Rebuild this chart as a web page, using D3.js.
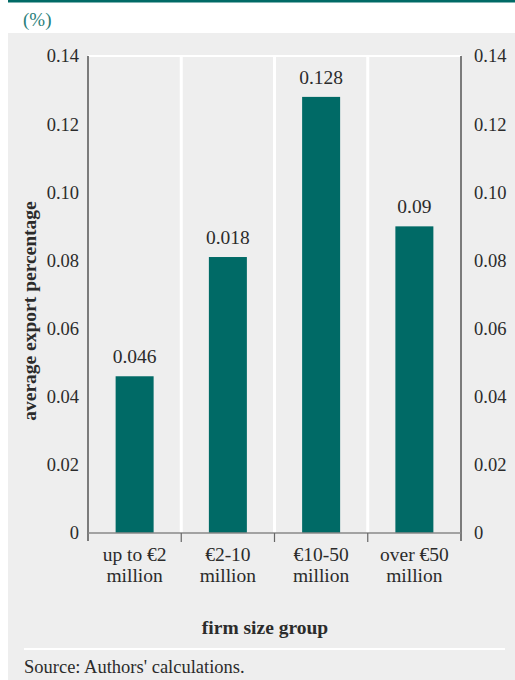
<!DOCTYPE html>
<html>
<head>
<meta charset="utf-8">
<script src="https://cdn.jsdelivr.net/npm/d3@7"></script>
<style>
  html, body { margin: 0; padding: 0; background: #ffffff; }
  svg { display: block; }
</style>
</head>
<body>
<svg id="chart" width="515" height="680"></svg>
<script>
// Firm size groups (two-line labels) and their average export percentage
const categories = [
  ["up to €2", "million"],
  ["€2-10", "million"],
  ["€10-50", "million"],
  ["over €50", "million"]
];
const values = [0.046, 0.081, 0.128, 0.09];
// Value labels printed above each bar
const valueLabels = ["0.046", "0.018", "0.128", "0.09"];
const yTicks = [0, 0.02, 0.04, 0.06, 0.08, 0.10, 0.12, 0.14];
const yTickLabels = ["0", "0.02", "0.04", "0.06", "0.08", "0.10", "0.12", "0.14"];

const teal = "#006a66";
const ink = "#2b2b2b";
const serif = "'Liberation Serif', 'Times New Roman', serif";
const svg = d3.select("#chart");

// Header rule, unit label and grey panel
svg.append("rect").attr("x", 8).attr("y", 0).attr("width", 507).attr("height", 2.5).attr("fill", teal);
svg.append("text").attr("x", 23).attr("y", 26).attr("font-size", 19)
  .attr("font-family", serif).attr("fill", "#2a7f7b").text("(%)");
svg.append("rect").attr("x", 8).attr("y", 33).attr("width", 507).attr("height", 647).attr("fill", "#eeeeee");

const plot = { left: 88, right: 461, top: 56, bottom: 533 };

const x = d3.scaleBand()
  .domain(d3.range(categories.length))
  .range([plot.left, plot.right])
  .paddingInner(0).paddingOuter(0);
const y = d3.scaleLinear().domain([0, 0.14]).range([plot.bottom, plot.top]);

// White frame lines: top edge and category separators
svg.append("line")
  .attr("x1", plot.left).attr("x2", plot.right)
  .attr("y1", plot.top).attr("y2", plot.top)
  .attr("stroke", "#ffffff").attr("stroke-width", 2);
svg.selectAll("line.sep")
  .data(d3.range(1, categories.length))
  .join("line")
  .attr("class", "sep")
  .attr("x1", d => x(d)).attr("x2", d => x(d))
  .attr("y1", plot.top).attr("y2", plot.bottom)
  .attr("stroke", "#ffffff").attr("stroke-width", 3);

// Bars
const barW = 38;
svg.selectAll("rect.bar")
  .data(values)
  .join("rect")
  .attr("class", "bar")
  .attr("x", (d, i) => x(i) + x.bandwidth() / 2 - barW / 2)
  .attr("width", barW)
  .attr("y", d => y(d))
  .attr("height", d => y(0) - y(d))
  .attr("fill", teal);

// Value labels
svg.selectAll("text.val")
  .data(values)
  .join("text")
  .attr("class", "val")
  .attr("x", (d, i) => x(i) + x.bandwidth() / 2)
  .attr("y", d => y(d) - 13)
  .attr("text-anchor", "middle")
  .attr("font-family", serif)
  .attr("font-size", 19.5)
  .attr("fill", ink)
  .text((d, i) => valueLabels[i]);

// Left and right value axes
const leftAxis = d3.axisLeft(y).tickValues(yTicks).tickSize(0).tickPadding(9)
  .tickFormat((d, i) => yTickLabels[i]);
const rightAxis = d3.axisRight(y).tickValues(yTicks).tickSize(0).tickPadding(13)
  .tickFormat((d, i) => yTickLabels[i]);

const gl = svg.append("g").attr("transform", `translate(${plot.left},0)`).call(leftAxis);
const gr = svg.append("g").attr("transform", `translate(${plot.right},0)`).call(rightAxis);
[gl, gr].forEach(g => {
  g.attr("font-family", serif).attr("font-size", 18.5);
  g.select(".domain").remove();
  g.selectAll("text").attr("fill", ink);
  g.append("line").attr("x1", 0).attr("x2", 0).attr("y1", plot.top).attr("y2", plot.bottom + 8)
    .attr("stroke", "#555").attr("stroke-width", 1.5);
});

// Category axis with boundary ticks
const gx = svg.append("g");
gx.append("line")
  .attr("x1", plot.left).attr("x2", plot.right)
  .attr("y1", plot.bottom).attr("y2", plot.bottom)
  .attr("stroke", "#888").attr("stroke-width", 1.5);
gx.selectAll("line.tick")
  .data(d3.range(1, categories.length))
  .join("line")
  .attr("class", "tick")
  .attr("x1", d => x(d)).attr("x2", d => x(d))
  .attr("y1", plot.bottom).attr("y2", plot.bottom + 9)
  .attr("stroke", "#666").attr("stroke-width", 1.2);

const catText = gx.selectAll("text.cat")
  .data(categories)
  .join("text")
  .attr("class", "cat")
  .attr("text-anchor", "middle")
  .attr("font-family", serif)
  .attr("font-size", 19.5)
  .attr("fill", ink)
  .attr("x", (d, i) => x(i) + x.bandwidth() / 2)
  .attr("y", 561);
catText.selectAll("tspan")
  .data(d => d)
  .join("tspan")
  .attr("x", function () { return d3.select(this.parentNode).attr("x"); })
  .attr("dy", (d, i) => i === 0 ? 0 : 21)
  .text(d => d);

// Axis titles
svg.append("text")
  .attr("x", 265).attr("y", 634)
  .attr("text-anchor", "middle")
  .attr("font-family", serif)
  .attr("font-size", 19.5).attr("font-weight", "bold")
  .attr("fill", ink)
  .text("firm size group");
svg.append("text")
  .attr("transform", `translate(36,311) rotate(-90)`)
  .attr("text-anchor", "middle")
  .attr("font-family", serif)
  .attr("font-size", 19.5).attr("font-weight", "bold")
  .attr("fill", ink)
  .text("average export percentage");

// Footer rule and source note
svg.append("line").attr("x1", 24).attr("x2", 505).attr("y1", 649).attr("y2", 649)
  .attr("stroke", "#ffffff").attr("stroke-width", 2);
svg.append("text").attr("x", 24).attr("y", 673)
  .attr("font-family", serif).attr("font-size", 18.5)
  .attr("fill", ink)
  .text("Source: Authors' calculations.");
</script>
</body>
</html>
